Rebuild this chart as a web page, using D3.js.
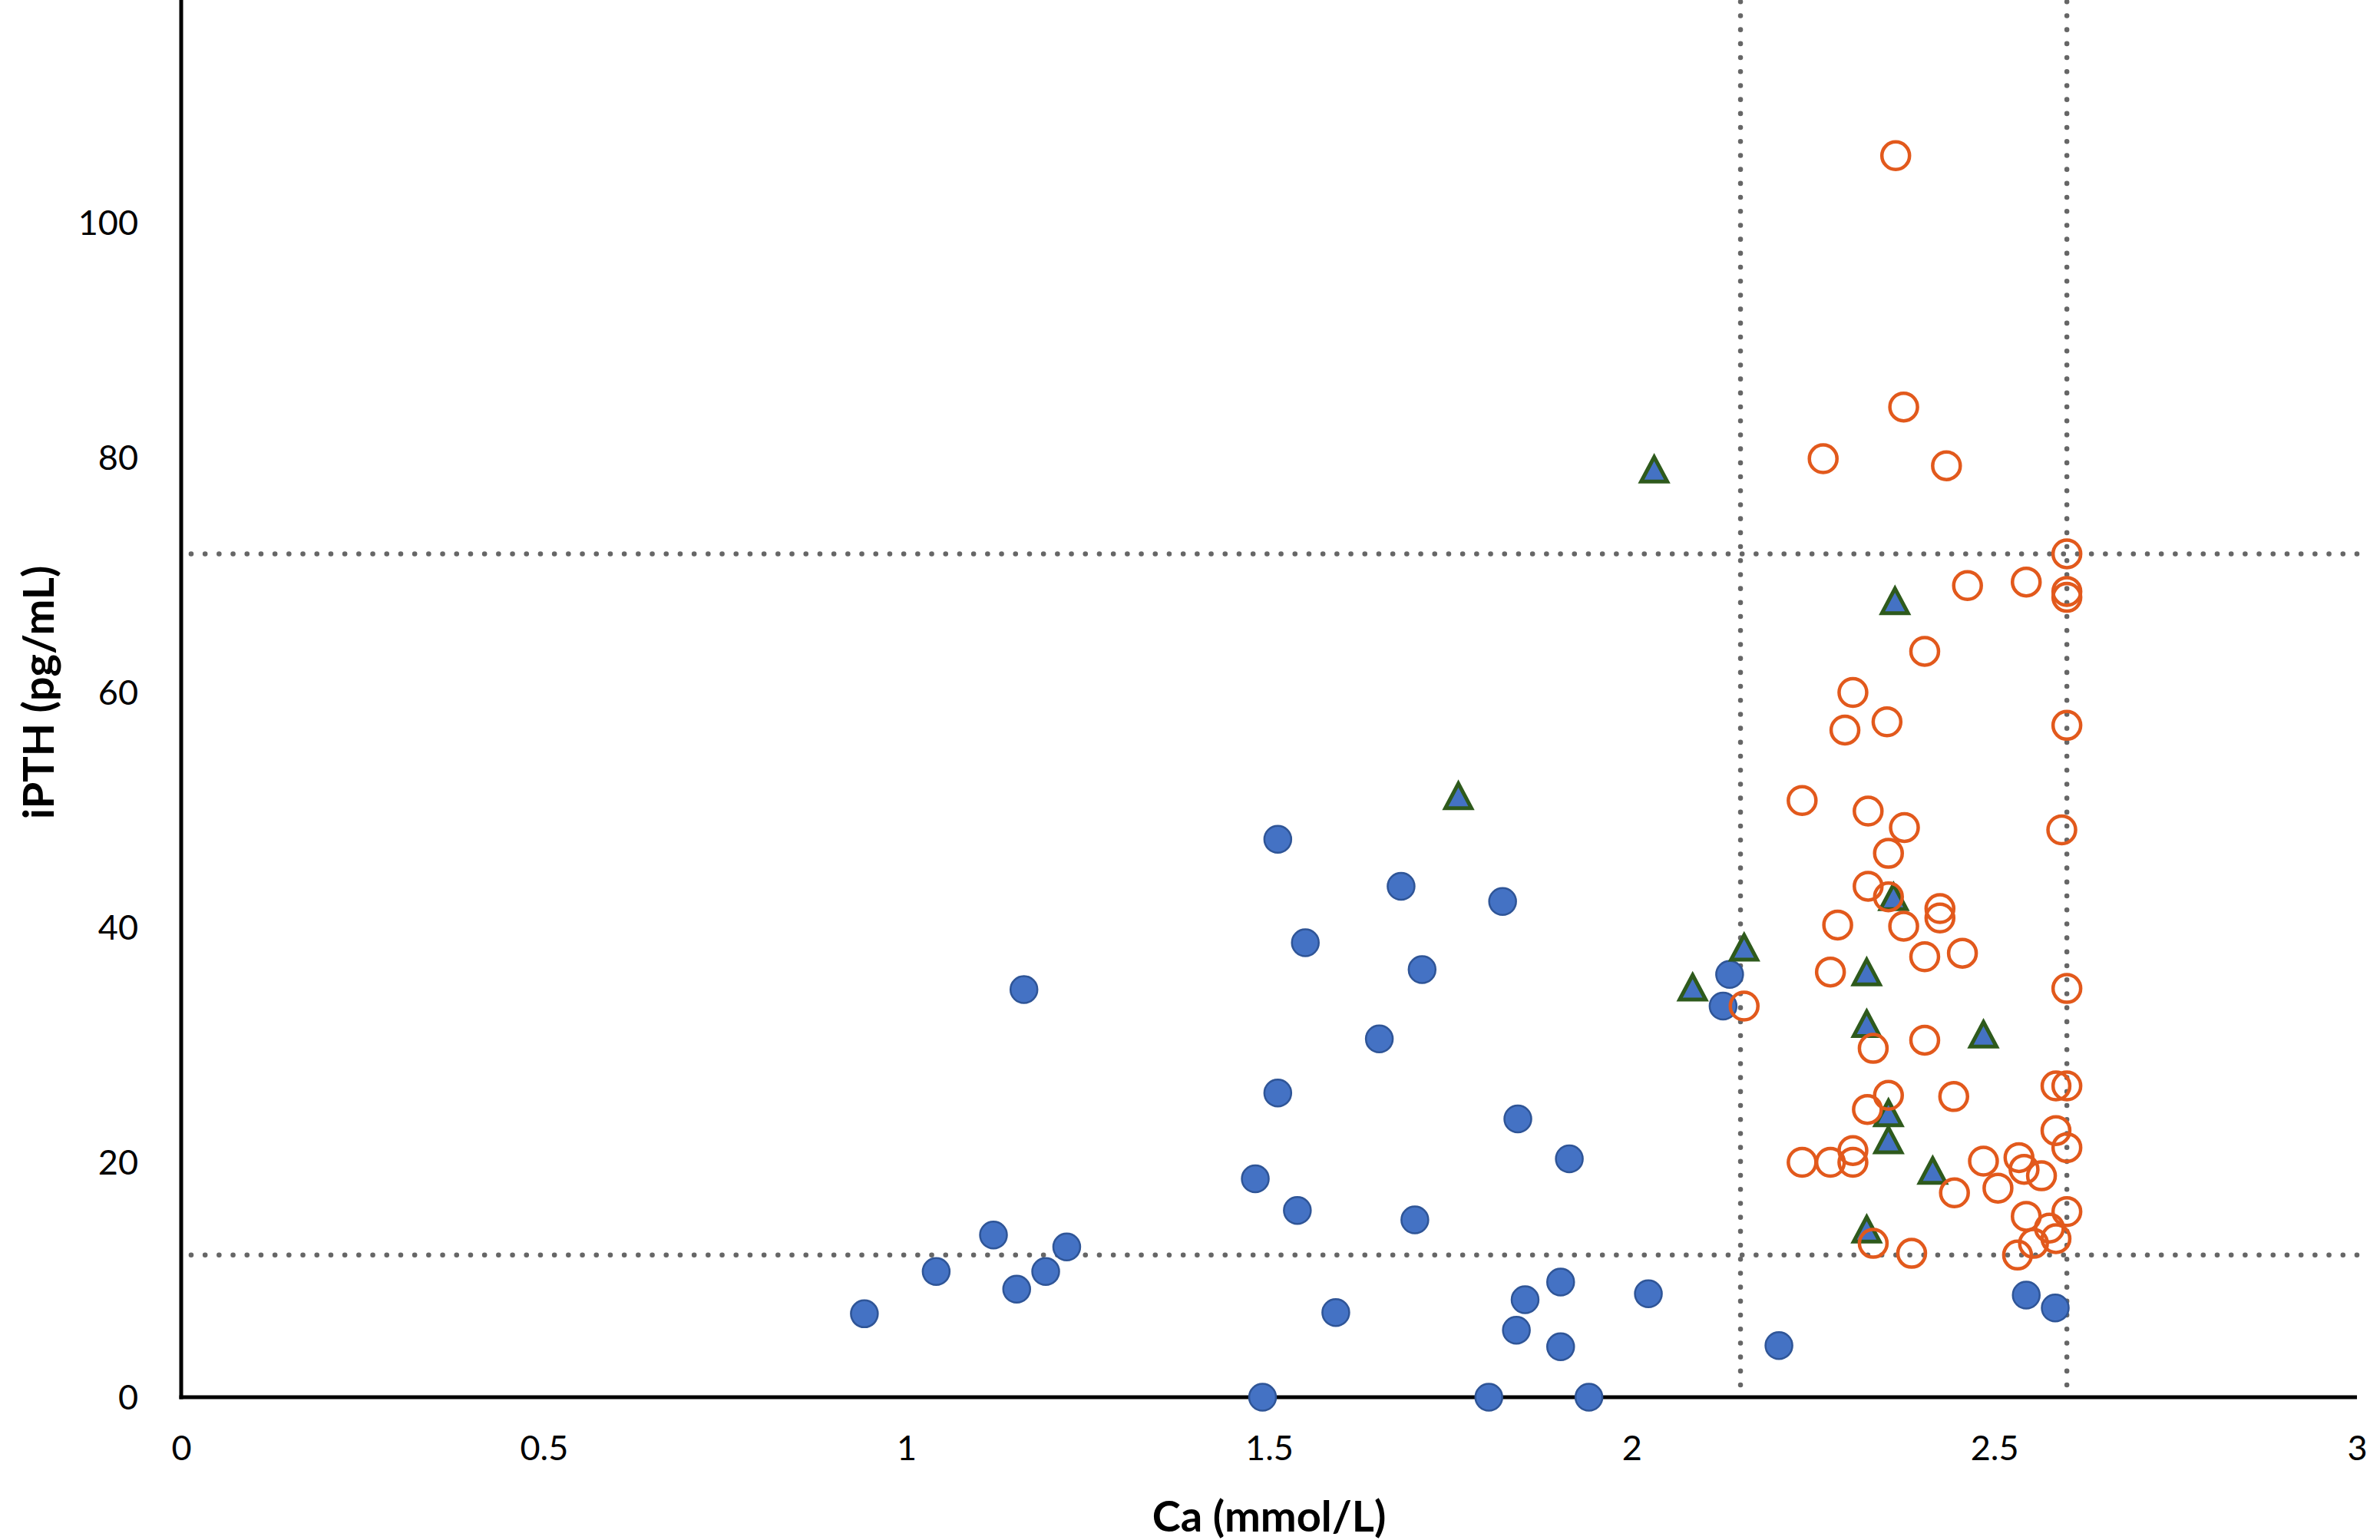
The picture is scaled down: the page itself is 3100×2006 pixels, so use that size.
<!DOCTYPE html>
<html>
  <head>
    <meta charset="utf-8">
    <script src="https://d3js.org/d3.v7.min.js"></script>
    <style>
      body { margin: 0; background: #fff; }
      text { font-family: Lato, "Liberation Sans", sans-serif; fill: #000; }
    </style>
  </head>
  <body>
    <script type="text/javascript">

      // Ca (mmol/L) and iPTH (pg/mL)
      var lowCa = [0.942, 1.041, 1.120, 1.152, 1.162, 1.192, 1.221, 1.481, 1.491, 1.512,
                   1.512, 1.539, 1.550, 1.592, 1.652, 1.682, 1.701, 1.711, 1.803, 1.822,
                   1.841, 1.853, 1.843, 1.902, 1.902, 1.914, 1.941, 2.023, 2.126, 2.135,
                   2.203, 2.544, 2.584];
      var lowPth = [7.1, 10.7, 13.8, 9.2, 34.7, 10.7, 12.8, 18.6, 0, 47.5,
                    25.9, 15.9, 38.7, 7.2, 30.5, 43.5, 15.1, 36.4, 0, 42.2,
                    5.7, 8.3, 23.7, 4.3, 9.8, 20.3, 0, 8.8, 33.3, 36.0,
                    4.4, 8.7, 7.6];

      var triCa = [1.761, 2.031, 2.084, 2.155, 2.324, 2.324, 2.363, 2.361, 2.354, 2.354,
                   2.415, 2.485, 2.324];
      var triPth = [51.2, 79.0, 34.9, 38.3, 36.2, 31.8, 67.8, 42.6, 24.2, 21.9,
                    19.3, 30.9, 14.3];

      var normCa = [2.364, 2.375, 2.264, 2.434, 2.600, 2.544, 2.463, 2.600, 2.600, 2.404,
                    2.305, 2.352, 2.294, 2.600, 2.235, 2.326, 2.376, 2.593, 2.354, 2.326,
                    2.354, 2.425, 2.425, 2.284, 2.375, 2.404, 2.456, 2.274, 2.600, 2.155,
                    2.404, 2.333, 2.354, 2.444, 2.585, 2.600, 2.325, 2.585, 2.600, 2.235,
                    2.274, 2.305, 2.305, 2.485, 2.534, 2.541, 2.565, 2.505, 2.445, 2.600,
                    2.544, 2.576, 2.585, 2.554, 2.532, 2.333, 2.386];
      var normPth = [105.7, 84.3, 79.9, 79.3, 71.8, 69.4, 69.1, 68.6, 68.1, 63.5,
                     60.0, 57.5, 56.8, 57.2, 50.8, 49.9, 48.5, 48.3, 46.3, 43.5,
                     42.6, 41.6, 40.8, 40.2, 40.1, 37.5, 37.8, 36.2, 34.8, 33.3,
                     30.4, 29.7, 25.7, 25.6, 26.5, 26.5, 24.5, 22.7, 21.25, 20.0,
                     20.0, 21.0, 20.0, 20.1, 20.4, 19.4, 18.85, 17.8, 17.4, 15.8,
                     15.4, 14.4, 13.5, 13.1, 12.1, 13.1, 12.25];

      // reference range lines
      var caRefs = [2.15, 2.6];
      var pthRefs = [12.1, 71.8];

      var xTicks = [0, 0.5, 1, 1.5, 2, 2.5, 3];
      var yTicks = [0, 20, 40, 60, 80, 100, 120];

      var width = 3100, height = 2006;
      var left = 236, right = 3070, bottom = 1820;

      var x = d3.scaleLinear().domain([0, 3]).range([left, right]);
      var y = d3.scaleLinear().domain([0, 120]).range([bottom, bottom - 120 * 15.3]);

      var svg = d3.select("body")
        .append("svg")
          .attr("width", width)
          .attr("height", height);

      // axes (Excel style: no tick marks)
      var xAxis = svg.append("g")
          .attr("transform", "translate(0," + bottom + ")")
          .call(d3.axisBottom(x).tickValues(xTicks).tickSize(0).tickPadding(50)
                .tickFormat(d3.format("")));
      var yAxis = svg.append("g")
          .attr("transform", "translate(" + left + ",0)")
          .call(d3.axisLeft(y).tickValues(yTicks).tickSize(0).tickPadding(56));

      [xAxis, yAxis].forEach(function (g) {
        g.select(".domain").remove();
        g.selectAll("text").style("font-size", "45px").attr("fill", "#000");
      });
      yAxis.selectAll("text").attr("dy", "0.35em");

      // dotted reference lines
      var dots = svg.append("g")
          .attr("stroke", "#666666")
          .attr("stroke-width", 6.5)
          .attr("stroke-linecap", "round")
          .attr("stroke-dasharray", "0.1,18.1");
      dots.selectAll(".vref").data(caRefs).enter()
        .append("line")
          .attr("x1", function (d) { return x(d); })
          .attr("x2", function (d) { return x(d); })
          .attr("y1", y(120))
          .attr("y2", y(0));
      dots.selectAll(".href").data(pthRefs).enter()
        .append("line")
          .attr("x1", x(3))
          .attr("x2", x(0))
          .attr("y1", function (d) { return y(d); })
          .attr("y2", function (d) { return y(d); });

      // axis lines
      svg.append("line")
          .attr("x1", x(0)).attr("x2", x(0))
          .attr("y1", y(120)).attr("y2", y(0) + 2.5)
          .attr("stroke", "#000").attr("stroke-width", 5);
      svg.append("line")
          .attr("x1", x(0) - 2.5).attr("x2", x(3))
          .attr("y1", y(0)).attr("y2", y(0))
          .attr("stroke", "#000").attr("stroke-width", 5);

      // blue filled circles
      svg.append("g").selectAll("circle")
        .data(d3.range(lowCa.length))
        .enter()
        .append("circle")
          .attr("cx", function (i) { return x(lowCa[i]); })
          .attr("cy", function (i) { return y(lowPth[i]); })
          .attr("r", 17.5)
          .attr("fill", "#4472C4")
          .attr("stroke", "#2F5597")
          .attr("stroke-width", 2.5);

      // triangles, blue fill with dark green edge
      svg.append("g").selectAll("path")
        .data(d3.range(triCa.length))
        .enter()
        .append("path")
          .attr("transform", function (i) {
            return "translate(" + x(triCa[i]) + "," + y(triPth[i]) + ")"; })
          .attr("d", "M0,-16L17,16L-17,16Z")
          .attr("fill", "#4472C4")
          .attr("stroke", "#2E5A1C")
          .attr("stroke-width", 5)
          .attr("stroke-linejoin", "miter");

      // open orange circles
      svg.append("g").selectAll("circle")
        .data(d3.range(normCa.length))
        .enter()
        .append("circle")
          .attr("cx", function (i) { return x(normCa[i]); })
          .attr("cy", function (i) { return y(normPth[i]); })
          .attr("r", 18)
          .attr("fill", "none")
          .attr("stroke", "#E2591C")
          .attr("stroke-width", 4.5);

      // axis titles
      svg.append("text")
          .attr("x", (left + right) / 2)
          .attr("y", 1975)
          .attr("dy", "0.35em")
          .attr("text-anchor", "middle")
          .style("font-size", "56px")
          .style("font-weight", "bold")
          .text("Ca (mmol/L)");

      svg.append("text")
          .attr("transform", "translate(50," + (bottom + y(120)) / 2 + ") rotate(-90)")
          .attr("dy", "0.35em")
          .attr("text-anchor", "middle")
          .style("font-size", "56px")
          .style("font-weight", "bold")
          .text("iPTH (pg/mL)");

    </script>
  </body>
</html>
